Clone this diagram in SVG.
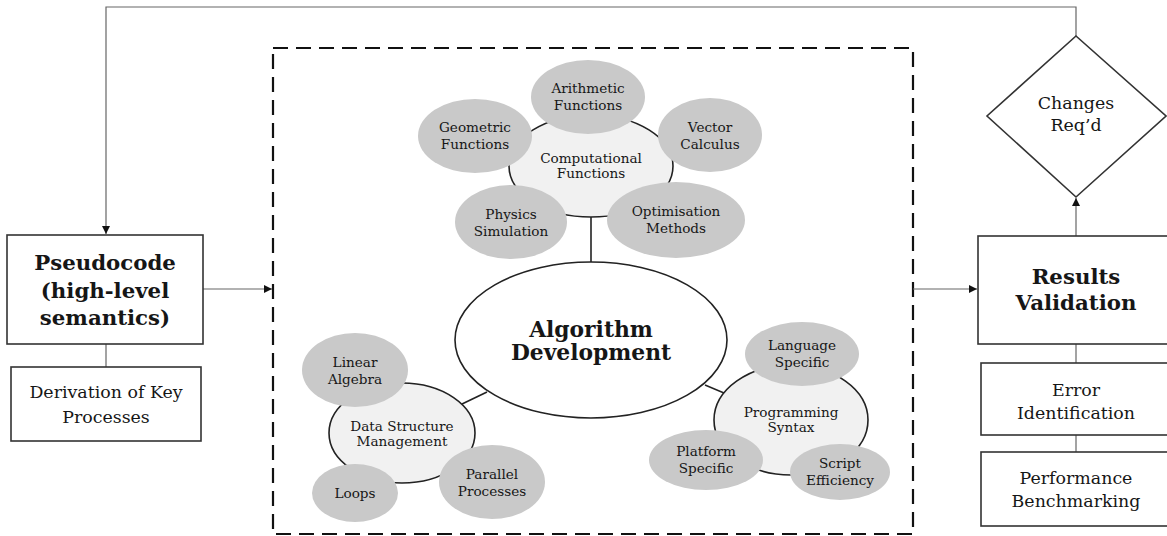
<svg xmlns="http://www.w3.org/2000/svg" width="1167" height="536" viewBox="0 0 1167 536">
  <defs>
    <marker id="arrow" viewBox="0 0 10 10" refX="10" refY="5" markerWidth="9" markerHeight="8" markerUnits="userSpaceOnUse" orient="auto">
      <path d="M0,0 L10,5 L0,10 z" fill="#111"/>
    </marker>
    <style>
      .box { fill: #fff; stroke: #333; stroke-width: 1.6; }
      .frame { fill: none; stroke: #111; stroke-width: 2.2; stroke-dasharray: 15 8; }
      .flow { fill: none; stroke: #666; stroke-width: 1.2; }
      .link { fill: none; stroke: #222; stroke-width: 1.6; }
      .hub { fill: #fff; stroke: #222; stroke-width: 1.6; }
      .group { fill: #f1f1f1; stroke: #222; stroke-width: 1.6; }
      .leaf { fill: #c9c9c9; stroke: none; }
      text { font-family: "DejaVu Serif", "Liberation Serif", serif; fill: #161616; text-anchor: middle; }
      .big { font-size: 21.3px; font-weight: bold; }
      .huge { font-size: 21.8px; font-weight: bold; }
      .mid { font-size: 17.4px; }
      .sm { font-size: 13.6px; }
    </style>
  </defs>

  <!-- dashed frame around the algorithm cluster -->
  <rect class="frame" x="273" y="48" width="640" height="486"/>

  <!-- connectors -->
  <g id="connectors">
    <path class="flow" d="M1076,36 V7 H106 V234" marker-end="url(#arrow)"/>
    <line class="flow" x1="203" y1="289" x2="272" y2="289" marker-end="url(#arrow)"/>
    <line class="flow" x1="913" y1="289" x2="977" y2="289" marker-end="url(#arrow)"/>
    <line class="flow" x1="1076" y1="236" x2="1076" y2="198" marker-end="url(#arrow)"/>
    <line class="flow" x1="106" y1="344" x2="106" y2="367"/>
    <line class="flow" x1="1076" y1="344" x2="1076" y2="363"/>
    <line class="flow" x1="1076" y1="435" x2="1076" y2="452"/>
    <line class="link" x1="591" y1="217" x2="591" y2="262"/>
    <line class="link" x1="487" y1="392" x2="462" y2="404"/>
    <line class="link" x1="705" y1="385" x2="724" y2="393"/>
  </g>

  <!-- left column -->
  <g id="pseudocode">
    <rect class="box" x="7" y="235" width="196" height="109"/>
    <text class="big" x="105" y="270">Pseudocode</text>
    <text class="big" x="105" y="298">(high-level</text>
    <text class="big" x="105" y="325">semantics)</text>
  </g>
  <g id="derivation">
    <rect class="box" x="11" y="367" width="190" height="74"/>
    <text class="mid" x="106" y="398">Derivation of Key</text>
    <text class="mid" x="106" y="423">Processes</text>
  </g>

  <!-- central hub -->
  <g id="algorithm">
    <ellipse class="hub" cx="591" cy="340" rx="136" ry="78"/>
    <text class="huge" x="591" y="337">Algorithm</text>
    <text class="huge" x="591" y="360">Development</text>
  </g>

  <!-- computational functions cluster -->
  <g id="computational">
    <ellipse class="group" cx="591" cy="166" rx="82" ry="51"/>
    <text class="sm" x="591" y="163">Computational</text>
    <text class="sm" x="591" y="178">Functions</text>
  </g>
  <g id="arithmetic">
    <ellipse class="leaf" cx="588" cy="97" rx="57" ry="37"/>
    <text class="sm" x="588" y="93">Arithmetic</text>
    <text class="sm" x="588" y="110">Functions</text>
  </g>
  <g id="geometric">
    <ellipse class="leaf" cx="475" cy="136" rx="57" ry="37"/>
    <text class="sm" x="475" y="132">Geometric</text>
    <text class="sm" x="475" y="149">Functions</text>
  </g>
  <g id="vector">
    <ellipse class="leaf" cx="710" cy="135" rx="52" ry="37"/>
    <text class="sm" x="710" y="132">Vector</text>
    <text class="sm" x="710" y="149">Calculus</text>
  </g>
  <g id="physics">
    <ellipse class="leaf" cx="511" cy="222" rx="56" ry="37"/>
    <text class="sm" x="511" y="219">Physics</text>
    <text class="sm" x="511" y="236">Simulation</text>
  </g>
  <g id="optimisation">
    <ellipse class="leaf" cx="676" cy="220" rx="69" ry="38"/>
    <text class="sm" x="676" y="216">Optimisation</text>
    <text class="sm" x="676" y="233">Methods</text>
  </g>

  <!-- data structure cluster -->
  <g id="data-structure">
    <ellipse class="group" cx="402" cy="433" rx="73" ry="50"/>
    <text class="sm" x="402" y="431">Data Structure</text>
    <text class="sm" x="402" y="446">Management</text>
  </g>
  <g id="linear-algebra">
    <ellipse class="leaf" cx="355" cy="370" rx="53" ry="37"/>
    <text class="sm" x="355" y="367">Linear</text>
    <text class="sm" x="355" y="384">Algebra</text>
  </g>
  <g id="loops">
    <ellipse class="leaf" cx="355" cy="493" rx="43" ry="29"/>
    <text class="sm" x="355" y="498">Loops</text>
  </g>
  <g id="parallel">
    <ellipse class="leaf" cx="492" cy="482" rx="53" ry="37"/>
    <text class="sm" x="492" y="479">Parallel</text>
    <text class="sm" x="492" y="496">Processes</text>
  </g>

  <!-- programming syntax cluster -->
  <g id="programming">
    <ellipse class="group" cx="791" cy="420" rx="77" ry="55"/>
    <text class="sm" x="791" y="417">Programming</text>
    <text class="sm" x="791" y="432">Syntax</text>
  </g>
  <g id="language">
    <ellipse class="leaf" cx="802" cy="354" rx="57" ry="32"/>
    <text class="sm" x="802" y="350">Language</text>
    <text class="sm" x="802" y="367">Specific</text>
  </g>
  <g id="platform">
    <ellipse class="leaf" cx="706" cy="460" rx="57" ry="30"/>
    <text class="sm" x="706" y="456">Platform</text>
    <text class="sm" x="706" y="473">Specific</text>
  </g>
  <g id="script-efficiency">
    <ellipse class="leaf" cx="840" cy="472" rx="50" ry="28"/>
    <text class="sm" x="840" y="468">Script</text>
    <text class="sm" x="840" y="485">Efficiency</text>
  </g>

  <!-- right column -->
  <g id="changes">
    <polygon class="box" points="1076,36 1166,116 1076,197 987,116"/>
    <text class="mid" x="1076" y="109">Changes</text>
    <text class="mid" x="1076" y="131">Req’d</text>
  </g>
  <g id="results">
    <rect class="box" x="978" y="236" width="195" height="108"/>
    <text class="big" x="1076" y="284">Results</text>
    <text class="big" x="1076" y="310">Validation</text>
  </g>
  <g id="error">
    <rect class="box" x="981" y="363" width="192" height="72"/>
    <text class="mid" x="1076" y="396">Error</text>
    <text class="mid" x="1076" y="419">Identification</text>
  </g>
  <g id="performance">
    <rect class="box" x="981" y="452" width="192" height="74"/>
    <text class="mid" x="1076" y="484">Performance</text>
    <text class="mid" x="1076" y="507">Benchmarking</text>
  </g>
</svg>
